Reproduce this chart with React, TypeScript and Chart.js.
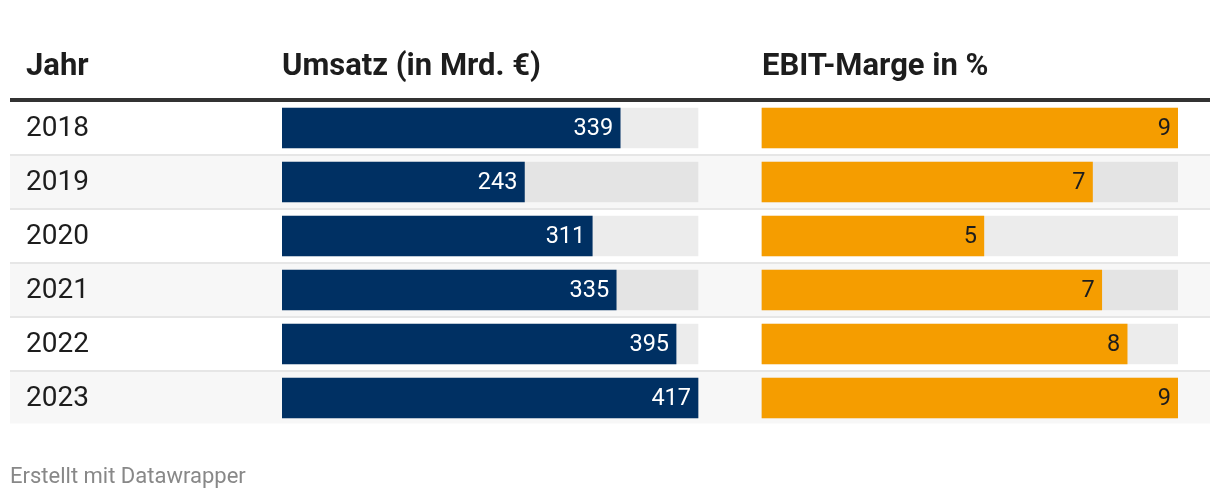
import React, { useEffect, useRef } from "react";
import { Chart, registerables } from "chart.js";

Chart.register(...registerables);

// ---- data ----
const years = ["2018", "2019", "2020", "2021", "2022", "2023"];
const umsatz = [339, 243, 311, 335, 395, 417];
const ebitMarge = [9.0, 7.15, 4.8, 7.35, 7.9, 9.0];
const headers = ["Jahr", "Umsatz (in Mrd. €)", "EBIT-Marge in %"];
const footerText = "Erstellt mit Datawrapper";

// ---- layout / style ----
const W = 1220;
const H = 500;
const TABLE_LEFT = 10;
const TABLE_RIGHT = 1210;
const YEAR_X = 26;
const COL_U = 282;
const COL_E = 762;
const COL_W = 416;
const BODY_TOP = 101;
const BODY_BOTTOM = 425;
const HEADER_BASELINE = 75;
const HEADER_LINE_TOP = 98;
const HEADER_LINE_H = 4;
const FOOTER_Y = 477;
const FONT = "Roboto, 'Noto Sans', sans-serif";
const NAVY = "#003063";
const ORANGE = "#f59d00";
const TRACK = "rgba(0,0,0,0.075)";
const STRIPE = "#f7f7f7";
const SEPARATOR = "#e6e6e6";
const TEXT = "#1d1d1d";

export default function App() {
  const canvasRef = useRef<HTMLCanvasElement | null>(null);

  useEffect(() => {
    const canvas = canvasRef.current;
    if (!canvas) return;

    const uMax = Math.max(...umsatz);
    const eMax = Math.max(...ebitMarge);
    const areaW = COL_E + COL_W - COL_U;
    const uAxisMax = (uMax * areaW) / COL_W;
    const eAxisMin = -((COL_E - COL_U) * eMax) / COL_W;

    const tablePlugin = {
      id: "tablePlugin",
      beforeDatasetsDraw(chart: any) {
        const ctx = chart.ctx;
        const yScale = chart.scales.y;
        const area = chart.chartArea;
        const n = years.length;
        const centers = years.map((_, i) => yScale.getPixelForValue(i));
        const bounds: number[] = [area.top];
        for (let i = 1; i < n; i++) bounds.push((centers[i - 1] + centers[i]) / 2);
        bounds.push(area.bottom - 1.5);
        ctx.save();
        for (let i = 0; i < n; i++) {
          if (i % 2 === 1) {
            ctx.fillStyle = STRIPE;
            ctx.fillRect(TABLE_LEFT, bounds[i], TABLE_RIGHT - TABLE_LEFT, bounds[i + 1] - bounds[i]);
          }
        }
        ctx.fillStyle = SEPARATOR;
        for (let i = 1; i < n; i++) {
          ctx.fillRect(TABLE_LEFT, bounds[i] - 1, TABLE_RIGHT - TABLE_LEFT, 2);
        }
        ctx.restore();
      },
      afterDraw(chart: any) {
        const ctx = chart.ctx;
        const yScale = chart.scales.y;
        ctx.save();
        // header
        ctx.fillStyle = TEXT;
        ctx.font = `bold 31px ${FONT}`;
        ctx.textBaseline = "alphabetic";
        ctx.textAlign = "left";
        ctx.fillText(headers[0], YEAR_X, HEADER_BASELINE);
        ctx.fillText(headers[1], COL_U, HEADER_BASELINE);
        ctx.fillText(headers[2], COL_E, HEADER_BASELINE);
        ctx.fillStyle = "#333333";
        ctx.fillRect(TABLE_LEFT, HEADER_LINE_TOP, TABLE_RIGHT - TABLE_LEFT, HEADER_LINE_H);
        // years
        ctx.fillStyle = TEXT;
        ctx.font = `28px ${FONT}`;
        ctx.textBaseline = "middle";
        years.forEach((yr, i) => {
          ctx.fillText(yr, YEAR_X, yScale.getPixelForValue(i) + 1);
        });
        // value labels
        ctx.font = `23.5px ${FONT}`;
        ctx.textAlign = "right";
        const metaU = chart.getDatasetMeta(1);
        const metaE = chart.getDatasetMeta(3);
        metaU.data.forEach((bar: any, i: number) => {
          ctx.fillStyle = "#ffffff";
          ctx.fillText(String(Math.round(umsatz[i])), bar.x - 7, bar.y + 1);
        });
        metaE.data.forEach((bar: any, i: number) => {
          ctx.fillStyle = TEXT;
          ctx.fillText(String(Math.round(ebitMarge[i])), bar.x - 7, bar.y + 1);
        });
        // footer
        ctx.textAlign = "left";
        ctx.fillStyle = "#888888";
        ctx.font = `22px ${FONT}`;
        ctx.fillText(footerText, TABLE_LEFT, FOOTER_Y);
        ctx.restore();
      },
    };

    const common = {
      grouped: false,
      barThickness: 40,
      borderWidth: 0,
      borderSkipped: false,
    };

    const chart = new Chart(canvas, {
      type: "bar",
      data: {
        labels: years,
        datasets: [
          { ...common, label: "Umsatz-Hintergrund", data: years.map(() => uMax), xAxisID: "xU", backgroundColor: TRACK, order: 2 },
          { ...common, label: "Umsatz (in Mrd. €)", data: umsatz, xAxisID: "xU", backgroundColor: NAVY, order: 1 },
          { ...common, label: "EBIT-Hintergrund", data: years.map(() => eMax), xAxisID: "xE", backgroundColor: TRACK, order: 2 },
          { ...common, label: "EBIT-Marge in %", data: ebitMarge, xAxisID: "xE", backgroundColor: ORANGE, order: 1 },
        ] as any,
      },
      options: {
        indexAxis: "y",
        animation: false,
        responsive: false,
        maintainAspectRatio: false,
        devicePixelRatio: 1,
        layout: {
          padding: {
            left: COL_U,
            right: W - (COL_E + COL_W),
            top: BODY_TOP,
            bottom: H - BODY_BOTTOM,
          },
        },
        plugins: {
          legend: { display: false },
          tooltip: { enabled: false },
          title: { display: false },
        },
        scales: {
          y: { type: "category", display: false, offset: true, grid: { display: false } },
          xU: { type: "linear", position: "bottom", display: false, min: 0, max: uAxisMax },
          xE: { type: "linear", position: "bottom", display: false, min: eAxisMin, max: eMax },
        },
      } as any,
      plugins: [tablePlugin],
    });

    return () => chart.destroy();
  }, []);

  return (
    <div style={{ position: "absolute", left: 0, top: 0, width: W, height: H, background: "#ffffff" }}>
      <canvas ref={canvasRef} width={W} height={H} style={{ width: W, height: H, display: "block" }} />
    </div>
  );
}
